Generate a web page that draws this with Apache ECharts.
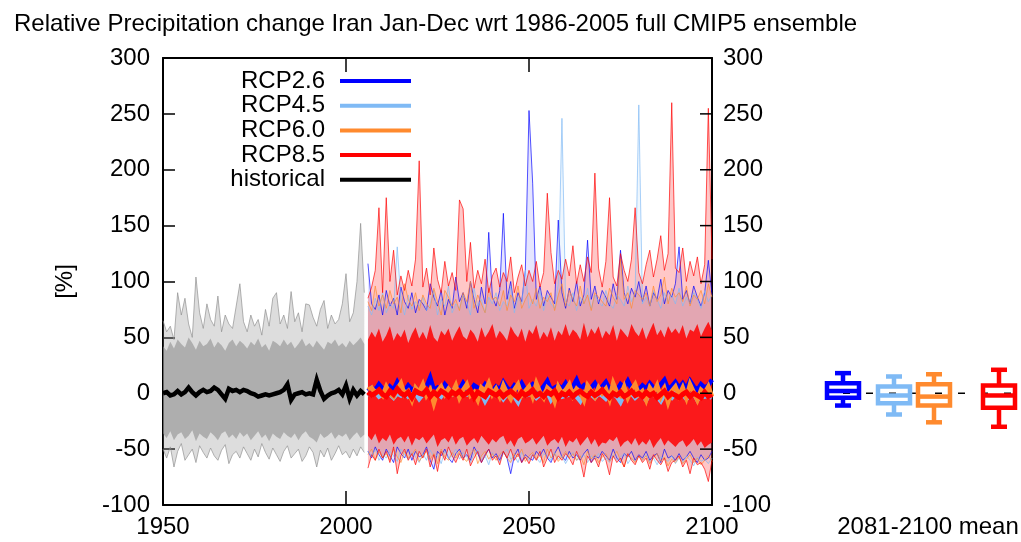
<!DOCTYPE html>
<html>
<head>
<meta charset="utf-8">
<script src="https://cdn.jsdelivr.net/npm/echarts@6.0.0/dist/echarts.min.js"></script>
<style>
  html, body { margin: 0; padding: 0; background: #fff; }
  #chart { width: 1021px; height: 542px; }
</style>
</head>
<body>
<div id="chart"></div>
<script>
// ---- data (% change wrt 1986-2005) ----
var histYears = [];
for (var y = 1950; y <= 2005; y++) histYears.push(y);
var futYears = [];
for (var y2 = 2006; y2 <= 2100; y2++) futYears.push(y2);
var xTickValues = [2000, 2050];
var yTickValues = [-50, 0, 50, 100, 150, 200, 250];

// historical ensemble mean (black) 1950-2005
var histMean = [0, 1, -2, -1, 2, -1, 1, 5, 1, -2,
  1, 3, 1, 2, 5, 3, -1, -5, 4, 2,
  3, 1, 3, 2, 0, -1, -3, -2, -1, -2,
  -1, 0, 1, 3, 8, -6, -1, 0, 1, -1,
  0, -1, 12, 2, -5, -2, 0, 1, 3, -1,
  7, -5, 3, -2, 2, -1];
// historical members: outer envelope and dense core
var histMax = [65, 55, 60, 48, 90, 70, 85, 62, 50, 104,
  72, 58, 80, 66, 60, 87, 55, 70, 62, 58,
  78, 98, 64, 55, 70, 60, 66, 52, 75, 60,
  85, 90, 62, 70, 58, 91, 64, 72, 55, 80,
  79, 68, 60, 75, 83, 58, 70, 62, 66, 80,
  107, 64, 72, 100, 152, 90];
var histMin = [-50, -58, -48, -66, -52, -45, -60, -55, -50, -62,
  -47, -53, -58, -49, -56, -60, -51, -46, -63, -55,
  -52, -58, -48, -54, -60, -50, -57, -45, -53, -59,
  -49, -55, -61, -52, -47, -58, -54, -50, -61, -56,
  -48, -53, -66, -51, -57, -49, -60, -54, -47, -55,
  -52, -58, -50, -56, -48, -53];
var histCoreHi = [42, 38, 46, 40, 48, 44, 41, 50, 45, 39,
  47, 42, 44, 49, 41, 46, 43, 38, 45, 48,
  42, 47, 44, 40, 46, 43, 49, 41, 44, 38,
  47, 45, 42, 48, 43, 46, 40, 44, 49, 42,
  45, 41, 47, 43, 39, 46, 44, 48, 42, 45,
  41, 47, 43, 46, 50, 44];
var histCoreLo = [-36, -40, -34, -42, -37, -35, -41, -38, -33, -43,
  -36, -39, -41, -35, -38, -42, -36, -34, -40, -37,
  -41, -35, -39, -36, -42, -38, -34, -40, -37, -43,
  -36, -39, -41, -35, -38, -40, -36, -42, -37, -34,
  -39, -41, -44, -36, -40, -38, -35, -41, -37, -39,
  -36, -42, -38, -35, -40, -37];

// scenario ensemble means 2006-2100
var rcp26Mean = [2, 5, 3, 8, 4,
  1, 6, 3, 10, 4, 2, 7, 3, 5, 1,
  4, 6, 14, 3, 5, 2, 8, 4, 1, 6,
  3, 9, 4, 2, 7, 5, 3, 8, 4, 2,
  6, 3, 10, 5, 2, 7, 4, 9, 3, 5,
  8, 4, 2, 6, 11, 3, 5, 7, 4, 9,
  3, 6, 12, 4, 7, 2, 5, 9, 3, 6,
  10, 4, 7, 3, 8, 5, 11, 4, 6, 3,
  7, 4, 9, 5, 3, 8, 12, 4, 6, 10,
  5, 9, 4, 11, 6, 3, 8, 5, 7, 12];
var rcp45Mean = [0, -2, 1, -3, -1,
  2, -1, -4, 0, -2, 1, -3, -1, 0, -5,
  -1, 1, -2, -6, 0, -3, 1, -2, -1, 0,
  -3, 0, -1, 2, -4, -2, 0, -7, -1, 1,
  -2, 0, -5, -1, 1, -3, -8, 0, -2, -1,
  0, -4, -1, -2, 1, -6, -1, 0, -3, -2,
  -1, 1, -3, -7, 0, -2, -1, -4, 0, -2,
  -5, -1, 0, -3, -8, -1, -2, 0, -4, -1,
  -2, -6, 0, -1, -3, -7, -1, -2, -4, 0,
  -3, -1, -5, -2, 0, -6, -1, -3, -2, -4];
var rcp60Mean = [3, 5, 0, 2, -2,
  6, 0, -3, 4, 9, -1, 2, -6, 5, 1,
  8, -2, 3, -9, 2, 6, -1, 4, 0, 7,
  -4, 3, 8, -2, 1, -6, 5, 2, 9, -1,
  4, -3, 7, 0, -5, 3, 8, -2, 2, 6,
  -3, 9, 1, -4, 5, 2, -7, 6, 0, 3,
  8, -2, 4, 1, -6, 7, 2, -3, 5, 0,
  4, -5, 9, 1, -2, 6, -4, 3, 8, -1,
  2, -6, 5, 0, 7, -3, 4, -8, 2, 6,
  -2, 5, -4, 8, 1, -6, 3, 0, 6, -3];
var rcp85Mean = [1, -2, 0, 3, -1,
  -3, 2, -1, 4, 0, -2, 1, -4, 2, 0,
  -1, 3, -3, 1, -2, 2, 0, -3, 1, -1,
  2, -2, 0, 3, -4, 1, -1, -3, 2, 0,
  -2, 1, -3, 0, 2, -1, -4, 1, -2, 0,
  3, -2, 0, -3, 1, -1, 2, -4, 0, -2,
  1, -3, 0, 2, -1, -3, 1, -2, 0, 3,
  -1, -4, 0, -2, 1, -3, -1, 2, -2, 0,
  -3, 1, -2, 0, -4, -1, 2, -3, 0, -2,
  -4, -1, 1, -3, 0, -2, -4, 1, -3, -1];

// scenario member envelopes 2006-2100
var rcp26Max = [116, 80, 75, 88, 70,
  92, 78, 85, 70, 95, 82, 76, 90, 72, 84,
  80, 74, 98, 86, 78, 92, 70, 84, 76, 104,
  82, 90, 76, 100, 84, 72, 95, 80, 144, 86,
  78, 92, 161, 84, 100, 76, 90, 82, 110, 253,
  188, 84, 96, 78, 92, 86, 80, 155, 90, 76,
  94, 82, 100, 78, 88, 137, 84, 96, 80, 92,
  86, 78, 98, 84, 128, 90, 80, 94, 86, 100,
  82, 96, 78, 90, 84, 102, 80, 92, 86, 98,
  131, 84, 92, 80, 96, 86, 78, 90, 119, 88];
var rcp26Min = [-52, -58, -48, -55, -60,
  -50, -56, -62, -48, -54, -58, -50, -60, -52, -57,
  -55, -48, -60, -68, -52, -56, -50, -58, -62, -54,
  -50, -58, -55, -60, -48, -54, -62, -56, -50, -58,
  -54, -60, -52, -58, -72, -56, -50, -62, -55, -58,
  -60, -52, -56, -50, -58, -62, -54, -48, -57, -60,
  -52, -58, -55, -60, -54, -50, -62, -56, -58, -52,
  -56, -60, -50, -58, -62, -54, -57, -52, -60, -55,
  -58, -52, -60, -56, -54, -62, -50, -58, -56, -60,
  -54, -60, -57, -52, -58, -62, -55, -60, -58, -52];
var rcp45Max = [78, 70, 85, 74, 90,
  72, 80, 76, 131, 84, 70, 88, 75, 82, 78,
  86, 74, 80, 92, 70, 84, 78, 96, 72, 80,
  76, 88, 82, 70, 94, 78, 84, 72, 86, 80,
  90, 74, 82, 78, 96, 72, 86, 80, 110, 76,
  84, 78, 92, 74, 88, 80, 76, 98, 246, 82,
  78, 90, 74, 86, 80, 94, 76, 88, 82, 78,
  92, 80, 76, 88, 84, 78, 96, 82, 90, 258,
  80, 86, 78, 92, 84, 76, 90, 82, 88, 80,
  94, 78, 86, 80, 90, 84, 76, 92, 82, 88];
var rcp45Min = [-52, -57, -50, -60, -55,
  -58, -52, -56, -61, -50, -55, -59, -53, -57, -62,
  -54, -60, -51, -57, -55, -63, -52, -58, -56, -50,
  -59, -53, -57, -62, -54, -51, -60, -56, -64, -53,
  -57, -61, -54, -50, -59, -56, -62, -53, -58, -60,
  -55, -58, -62, -54, -57, -60, -53, -59, -56, -63,
  -57, -53, -60, -58, -55, -62, -56, -59, -54, -61,
  -58, -62, -55, -60, -57, -54, -63, -58, -61, -56,
  -60, -55, -62, -58, -64, -57, -59, -61, -56, -63,
  -58, -62, -56, -60, -65, -57, -61, -59, -63, -58];
var rcp60Max = [82, 74, 96, 78, 88,
  76, 92, 80, 86, 72, 98, 84, 78, 90, 74,
  88, 80, 76, 94, 82, 70, 92, 86, 78, 84,
  74, 90, 82, 100, 76, 88, 80, 72, 94, 84,
  86, 78, 92, 74, 88, 82, 96, 76, 84, 90,
  80, 94, 76, 86, 82, 90, 74, 88, 98, 78,
  92, 84, 78, 96, 80, 88, 74, 90, 86, 82,
  78, 94, 86, 80, 120, 84, 90, 76, 92, 88,
  84, 90, 78, 96, 82, 88, 104, 80, 94, 86,
  90, 82, 96, 78, 88, 84, 92, 80, 98, 86];
var rcp60Min = [-55, -50, -60, -52, -58,
  -54, -60, -50, -57, -62, -52, -58, -55, -50, -61,
  -56, -52, -59, -54, -63, -50, -57, -60, -53, -58,
  -52, -58, -61, -55, -50, -63, -56, -52, -59, -54,
  -60, -55, -52, -58, -62, -54, -57, -50, -61, -56,
  -53, -59, -56, -62, -50, -58, -54, -61, -57, -52,
  -58, -54, -60, -56, -64, -52, -59, -55, -62, -57,
  -54, -61, -57, -52, -60, -66, -55, -58, -62, -56,
  -60, -56, -63, -58, -54, -61, -57, -65, -59, -62,
  -57, -63, -59, -55, -62, -58, -64, -60, -56, -61];
var rcp85Max = [85, 95, 110, 166, 90,
  175, 100, 128, 88, 105, 92, 110, 96, 120, 208,
  95, 112, 88, 130, 102, 90, 118, 96, 108, 92,
  173, 165, 100, 135, 94, 110, 98, 120, 90, 105,
  112, 95, 108, 100, 122, 90, 104, 115, 96, 110,
  100, 118, 95, 108, 179, 126, 98, 110, 102, 120,
  105, 132, 98, 115, 100, 122, 108, 197, 112, 95,
  118, 175, 104, 96, 125, 110, 100, 120, 166, 108,
  98, 115, 128, 104, 120, 141, 110, 125, 260, 112,
  108, 130, 100, 118, 105, 122, 98, 115, 255, 120];
var rcp85Min = [-67, -55, -60, -50, -58,
  -52, -62, -48, -72, -56, -50, -60, -54, -64, -52,
  -58, -50, -66, -55, -70, -52, -60, -48, -56, -62,
  -54, -60, -50, -65, -58, -52, -62, -55, -50, -60,
  -56, -64, -52, -58, -50, -60, -54, -62, -57, -63,
  -55, -60, -52, -66, -58, -50, -62, -56, -60, -54,
  -58, -64, -52, -60, -75, -56, -62, -58, -66, -54,
  -60, -73, -56, -62, -58, -66, -54, -60, -64, -56,
  -62, -58, -68, -55, -60, -64, -58, -70, -62, -60,
  -56, -66, -60, -72, -58, -64, -62, -68, -79, -60];
var rcp85CoreHi = [48, 55, 50, 58, 46,
  52, 60, 47, 54, 50, 57, 45, 53, 59, 49,
  55, 48, 61, 50, 46, 56, 52, 58, 47, 54,
  60, 51, 48, 57, 53, 46, 59, 50, 55, 62,
  49, 56, 52, 47, 60, 54, 50, 58, 46, 57,
  53, 61, 48, 55, 50, 59, 47, 56, 52, 62,
  51, 57, 54, 48, 63, 50, 58, 53, 60, 49,
  56, 52, 61, 47, 58, 54, 50, 62, 55, 51,
  59, 48, 56, 63, 52, 57, 50, 60, 54, 58,
  53, 61, 49, 57, 55, 62, 51, 58, 64, 56];
var rcp85CoreLo = [-38, -42, -36, -45, -40,
  -43, -37, -46, -41, -39, -44, -38, -47, -40, -42,
  -39, -45, -41, -37, -48, -42, -40, -44, -38, -46,
  -41, -39, -47, -43, -40, -45, -38, -42, -46, -41,
  -44, -40, -38, -46, -42, -48, -41, -39, -45, -43,
  -40, -46, -42, -38, -47, -43, -41, -45, -39, -48,
  -42, -44, -40, -47, -43, -39, -46, -41, -48, -44,
  -45, -41, -43, -39, -48, -44, -42, -46, -40, -47,
  -43, -46, -41, -49, -44, -40, -47, -42, -45, -48,
  -44, -42, -48, -45, -41, -47, -43, -49, -46, -44];

// 2081-2100 mean box plots: RCP2.6, RCP4.5, RCP6.0, RCP8.5
var boxNames = ['RCP2.6', 'RCP4.5', 'RCP6.0', 'RCP8.5'];
var boxLow = [-11, -19, -26, -30];
var boxQ1 = [-4, -9, -11, -13];
var boxMed = [2, -2, -3, -2];
var boxQ3 = [9, 6, 8, 7];
var boxHigh = [18, 15, 17, 21];

// ---- styling ----
var FONT = 'Liberation Sans, Arial, Helvetica, sans-serif';
var X_MIN = 1950, X_MAX = 2100, Y_MIN = -100, Y_MAX = 300;
var C_HIST = '#8f8f8f';
var C26 = '#0000ff';
var C45 = '#7fbaf5';
var C60 = '#ff8a2e';
var C85 = '#ff0000';
var boxColors = [C26, C45, C60, C85];
var boxPos = [43, 94, 134, 199]; // x slots in the side panel (0..221)

function pairs(years, vals) {
  return years.map(function (yr, i) { return [yr, vals[i]]; });
}
// a band lo..hi (lo < 0 < hi) drawn as two areas filled towards zero
function band(years, lo, hi, color, fill, edge) {
  return [lo, hi].map(function (vals) {
    return {
      type: 'line', data: pairs(years, vals),
      showSymbol: false, symbol: 'none', silent: true,
      lineStyle: { color: color, width: edge, opacity: edge ? 0.85 : 0 },
      areaStyle: { color: color, opacity: fill, origin: 0 }
    };
  });
}
function meanLine(years, vals, color, width) {
  return {
    type: 'line', data: pairs(years, vals), showSymbol: false, symbol: 'none',
    silent: true, lineStyle: { color: color, width: width, join: 'miter' }
  };
}

var axisLineStyle = { color: '#000', width: 2 };
var tickStyle = { color: '#000', width: 1.5 };
var labelStyle = { color: '#000', fontSize: 24, fontFamily: FONT };
function plain(v) { return String(v); }

// inward frame ticks drawn through the axes' own scales
var frameTicks = {
  type: 'custom', silent: true, z: 10, clip: false,
  data: xTickValues.map(function (v) { return [v, Y_MIN, 0]; })
    .concat(yTickValues.map(function (v) { return [X_MAX, v, 1]; })),
  encode: { x: 0, y: 1 },
  renderItem: function (params, api) {
    var st = { stroke: '#000', lineWidth: 1.5 };
    if (api.value(2) === 0) {
      var b = api.coord([api.value(0), Y_MIN]);
      var t = api.coord([api.value(0), Y_MAX]);
      return {
        type: 'group',
        children: [
          { type: 'line', shape: { x1: b[0], y1: b[1], x2: b[0], y2: b[1] - 14 }, style: st },
          { type: 'line', shape: { x1: t[0], y1: t[1], x2: t[0], y2: t[1] + 14 }, style: st }
        ]
      };
    }
    var r = api.coord([X_MAX, api.value(1)]);
    return { type: 'line', shape: { x1: r[0], y1: r[1], x2: r[0] - 12, y2: r[1] }, style: st };
  }
};

var series = [].concat(
  band(histYears, histMin, histMax, C_HIST, 0.3, 0.8),
  band(histYears, histCoreLo, histCoreHi, C_HIST, 0.6, 0),
  band(futYears, rcp26Min, rcp26Max, C26, 0.1, 0.8),
  band(futYears, rcp45Min, rcp45Max, C45, 0.12, 0.8),
  band(futYears, rcp60Min, rcp60Max, C60, 0.12, 0.8),
  band(futYears, rcp85Min, rcp85Max, C85, 0.22, 0.8),
  band(futYears, rcp85CoreLo, rcp85CoreHi, C85, 0.85, 0),
  [
    meanLine(histYears, histMean, '#000', 4.5),
    meanLine(futYears, rcp26Mean, C26, 4.5),
    meanLine(futYears, rcp45Mean, C45, 4.5),
    meanLine(futYears, rcp60Mean, C60, 4.5),
    meanLine(futYears, rcp85Mean, C85, 5),
    frameTicks,
    {
      type: 'line', xAxisIndex: 2, yAxisIndex: 2, silent: true,
      showSymbol: false, symbol: 'none',
      data: [[boxPos[0], 0], [221, 0]],
      lineStyle: { color: '#000', width: 1.5, type: [7, 16] }, z: 1
    },
    {
      type: 'custom', xAxisIndex: 2, yAxisIndex: 2, silent: true, z: 3,
      data: boxNames.map(function (n, i) {
        return [boxPos[i], boxLow[i], boxQ1[i], boxMed[i], boxQ3[i], boxHigh[i]];
      }),
      encode: { x: 0, y: [1, 2, 3, 4, 5] },
      renderItem: function (params, api) {
        var x = api.value(0);
        var lo = api.coord([x, api.value(1)]);
        var q1 = api.coord([x, api.value(2)]);
        var md = api.coord([x, api.value(3)]);
        var q3 = api.coord([x, api.value(4)]);
        var hi = api.coord([x, api.value(5)]);
        var col = boxColors[params.dataIndex];
        var st = { stroke: col, lineWidth: 4.5, fill: 'none' };
        var bw = 32, cw = 16, cx = lo[0];
        return {
          type: 'group',
          children: [
            { type: 'line', shape: { x1: cx, y1: hi[1], x2: cx, y2: q3[1] }, style: st },
            { type: 'line', shape: { x1: cx, y1: q1[1], x2: cx, y2: lo[1] }, style: st },
            { type: 'line', shape: { x1: cx - cw / 2, y1: hi[1], x2: cx + cw / 2, y2: hi[1] }, style: st },
            { type: 'line', shape: { x1: cx - cw / 2, y1: lo[1], x2: cx + cw / 2, y2: lo[1] }, style: st },
            { type: 'rect', shape: { x: cx - bw / 2, y: q3[1], width: bw, height: q1[1] - q3[1] }, style: st },
            { type: 'line', shape: { x1: cx - bw / 2, y1: md[1], x2: cx + bw / 2, y2: md[1] }, style: st }
          ]
        };
      }
    }
  ]
);

var legendItems = [
  ['RCP2.6', C26], ['RCP4.5', C45], ['RCP6.0', C60], ['RCP8.5', C85], ['historical', '#000']
];
var graphics = [];
legendItems.forEach(function (it, i) {
  var yy = 81 + i * 24.7;
  graphics.push({
    type: 'text', x: 325, y: yy, z: 100,
    style: { text: it[0], fill: '#000', font: '24px ' + FONT, textAlign: 'right', textVerticalAlign: 'middle' }
  });
  graphics.push({
    type: 'line', z: 100,
    shape: { x1: 340, y1: yy, x2: 411, y2: yy },
    style: { stroke: it[1], lineWidth: 4 }
  });
});
graphics.push({
  type: 'text', x: 928, y: 527, z: 100,
  style: { text: '2081-2100 mean', fill: '#000', font: '24px ' + FONT, textAlign: 'center', textVerticalAlign: 'middle' }
});

var yTick = { show: true, inside: true, length: 12, lineStyle: tickStyle };

var chart = echarts.init(document.getElementById('chart'), null, { renderer: 'canvas' });
chart.setOption({
  animation: false,
  backgroundColor: '#fff',
  title: {
    text: 'Relative Precipitation change Iran Jan-Dec wrt 1986-2005 full CMIP5 ensemble',
    left: 9, top: 7,
    textStyle: { fontSize: 24, fontWeight: 'normal', color: '#000', fontFamily: FONT }
  },
  grid: [
    { left: 163, right: 309, top: 58, bottom: 37 },
    { left: 800, right: 0, top: 58, bottom: 37 }
  ],
  xAxis: [
    {
      gridIndex: 0, type: 'value', min: X_MIN, max: X_MAX, interval: 50, position: 'bottom',
      axisLine: { onZero: false, lineStyle: axisLineStyle },
      axisTick: { show: false },
      axisLabel: Object.assign({ margin: 10, formatter: plain }, labelStyle),
      splitLine: { show: false }
    },
    {
      gridIndex: 0, type: 'value', min: X_MIN, max: X_MAX, interval: 50, position: 'top',
      axisLine: { onZero: false, lineStyle: axisLineStyle },
      axisTick: { show: false },
      axisLabel: { show: false },
      splitLine: { show: false }
    },
    { gridIndex: 1, type: 'value', min: 0, max: 221, show: false }
  ],
  yAxis: [
    {
      gridIndex: 0, type: 'value', min: Y_MIN, max: Y_MAX, interval: 50, position: 'left',
      name: '[%]', nameLocation: 'middle', nameGap: 86, nameRotate: 90,
      nameTextStyle: { color: '#000', fontSize: 24, fontFamily: FONT },
      axisLine: { show: true, onZero: false, lineStyle: axisLineStyle },
      axisTick: yTick,
      axisLabel: Object.assign({ margin: 13, formatter: plain }, labelStyle),
      splitLine: { show: false }
    },
    {
      gridIndex: 0, type: 'value', min: Y_MIN, max: Y_MAX, interval: 50, position: 'right',
      axisLine: { show: true, onZero: false, lineStyle: axisLineStyle },
      axisTick: { show: false },
      axisLabel: Object.assign({ margin: 11, formatter: plain }, labelStyle),
      splitLine: { show: false }
    },
    { gridIndex: 1, type: 'value', min: Y_MIN, max: Y_MAX, show: false }
  ],
  graphic: graphics,
  series: series
});
</script>
</body>
</html>
